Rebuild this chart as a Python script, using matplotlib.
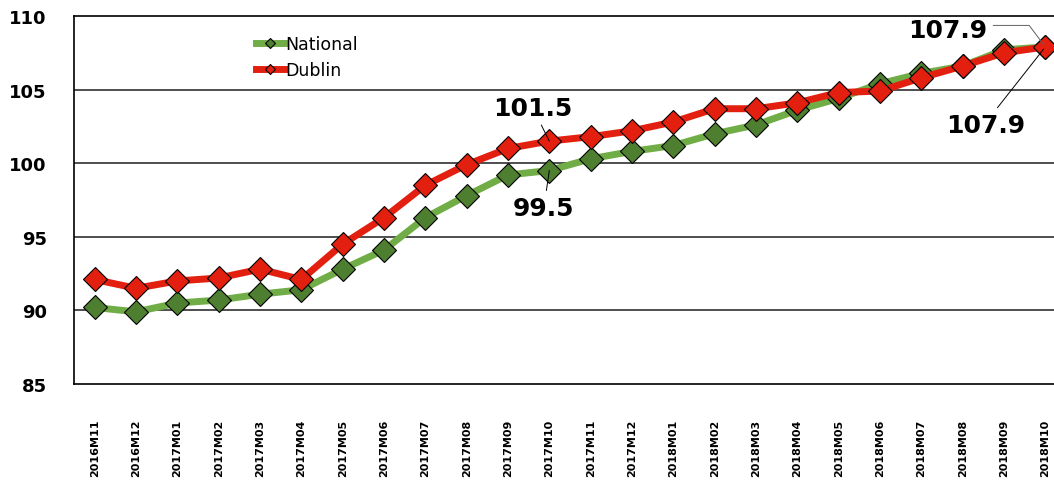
import numpy as np
import matplotlib
matplotlib.use("Agg")
import matplotlib.pyplot as plt
from matplotlib.lines import Line2D

months = ["2016M11", "2016M12", "2017M01", "2017M02", "2017M03", "2017M04",
          "2017M05", "2017M06", "2017M07", "2017M08", "2017M09", "2017M10",
          "2017M11", "2017M12", "2018M01", "2018M02", "2018M03", "2018M04",
          "2018M05", "2018M06", "2018M07", "2018M08", "2018M09", "2018M10"]

national = [90.2, 89.9, 90.5, 90.7, 91.1, 91.4, 92.8, 94.1, 96.3, 97.8, 99.2, 99.5,
            100.3, 100.8, 101.2, 102.0, 102.6, 103.6, 104.4, 105.4, 106.1, 106.6, 107.7, 107.9]
dublin = [92.1, 91.5, 92.0, 92.2, 92.8, 92.1, 94.5, 96.3, 98.5, 99.9, 101.0, 101.5,
          101.8, 102.2, 102.8, 103.7, 103.7, 104.1, 104.8, 104.9, 105.8, 106.6, 107.5, 107.9]

yticks = [85, 90, 95, 100, 105, 110]

green_line = "#70AD47"
green_mark = "#4E7E30"
red_line = "#E3200F"
red_mark = "#E3200F"

fig = plt.figure(figsize=(10.54, 4.81), dpi=100)
ax = fig.add_axes([0.0702, 0.1996, 0.9412, 0.7651])

x = np.arange(len(months))
ax.plot(x, national, color=green_line, lw=5, marker="D", ms=12.5,
        mfc=green_mark, mec="black", mew=0.8, zorder=3)
ax.plot(x, dublin, color=red_line, lw=5, marker="D", ms=12.5,
        mfc=red_mark, mec="black", mew=0.8, zorder=4)

ax.set_xlim(-0.5, len(months) - 0.5)
ax.set_ylim(85, 110)
ax.set_yticks(yticks)
ax.set_yticklabels([str(v) for v in yticks], fontsize=13, fontweight="bold")
ax.set_xticks(x)
ax.set_xticklabels(months, rotation=90, fontsize=8, fontweight="bold")
ax.tick_params(axis="y", length=0, pad=19.5)
ax.tick_params(axis="x", length=0, pad=25)

for v in yticks[1:-1]:
    ax.axhline(v, color="#303030", lw=1.2, zorder=1)
for s in ["left", "bottom", "top"]:
    ax.spines[s].set_color("black")
    ax.spines[s].set_linewidth(1.2)
ax.spines["right"].set_visible(False)

# data labels
lab = dict(fontsize=18, fontweight="bold", ha="center", va="center", zorder=6)
ax.annotate(f"{dublin[11]}", xy=(11, dublin[11]), xytext=(-12, 24),
            textcoords="offset points",
            arrowprops=dict(arrowstyle="-", color="black", lw=0.7, shrinkA=2, shrinkB=0),
            **lab)
ax.annotate(f"{national[11]}", xy=(11, national[11]), xytext=(-4, -27),
            textcoords="offset points",
            arrowprops=dict(arrowstyle="-", color="black", lw=0.7, shrinkA=2, shrinkB=0),
            **lab)
ax.annotate(f"{dublin[-1]}", xy=(23, dublin[-1]), xytext=(-70, 12),
            textcoords="offset points",
            arrowprops=dict(arrowstyle="-", color="#606060", lw=0.7, shrinkA=2, shrinkB=2,
                            relpos=(1.0, 0.7),
                            connectionstyle="angle,angleA=0,angleB=127,rad=0"),
            **lab)
ax.annotate(f"{national[-1]}", xy=(23, national[-1]), xytext=(-43, -56),
            textcoords="offset points",
            arrowprops=dict(arrowstyle="-", color="black", lw=0.7, shrinkA=2, shrinkB=2,
                            relpos=(0.6, 1.0)),
            **lab)

handles = [
    Line2D([0], [0], color=green_line, lw=5, marker="D", ms=5, mfc=green_mark, mec="black", mew=0.8),
    Line2D([0], [0], color=red_line, lw=5, marker="D", ms=5, mfc=red_mark, mec="black", mew=0.8),
]
fig.legend(handles, ["National", "Dublin"], loc="upper left",
           bbox_to_anchor=(0.228, 0.957), frameon=False, fontsize=12.5,
           handlelength=1.6, handletextpad=0.1, labelspacing=0.45)

fig.savefig("out.png", dpi=100)
